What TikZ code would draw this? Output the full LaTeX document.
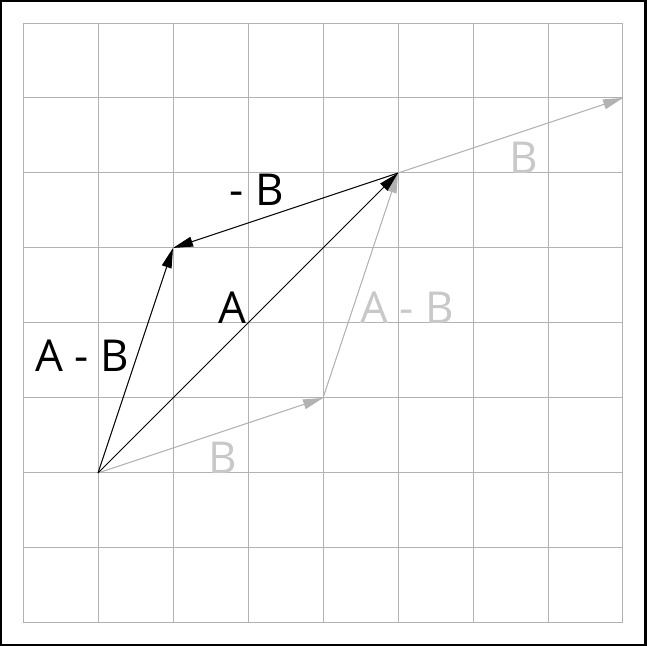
\documentclass[tikz,border=0pt]{standalone}
\usepackage{fontspec}
\setmainfont{Open Sans}
\usetikzlibrary{arrows.meta}
\definecolor{gridgray}{RGB}{178,178,178}
\definecolor{vecgray}{RGB}{178,178,178}
\definecolor{labgray}{RGB}{200,200,200}
\tikzset{
  vec/.style={line width=0.5pt, -{Triangle[length=10pt,width=5pt]}},
  ghost/.style={vec, draw=vecgray, fill=vecgray},
  lab/.style={font=\fontsize{22}{26}\selectfont, inner sep=0pt},
}
\begin{document}
\begin{tikzpicture}[x=37.5pt, y=37.5pt]
        \useasboundingbox (-0.306667,-0.306667) rectangle (8.306667,8.306667);
        % Frame
        \draw [line width=2pt] (-0.306667,-0.306667) rectangle (8.306667,8.306667);%

        % Drawing grid
        \draw [gridgray, line width=0.5pt, step=37.5pt] (0,0) grid (8,8);%

        % Points
        \coordinate (O) at (1.000000,2.000000);%
        \coordinate (B) at (4.000000,3.000000);%
        \coordinate (A) at (5.000000,6.000000);%
        \coordinate (AB) at (2.000000,5.000000);%
        \coordinate (E) at (8.000000,7.000000);%

        % Gray vectors B, A - B and B
        \draw [ghost] (O) -- (B);%
        \draw [ghost] (B) -- (A);%
        \draw [ghost] (A) -- (E);%

        % Black vectors A, A - B and - B
        \draw [vec] (O) -- (A);%
        \draw [vec] (O) -- (AB);%
        \draw [vec] (A) -- (AB);%

        % Labels
        \node [lab] (labA) at (2.790000,4.210000) {A};%
        \node [lab] (labNB) at (3.120000,5.770000) {- B};%
        \node [lab] (labAB) at (0.790000,3.570000) {A - B};%
        \node [lab, labgray] (labB) at (2.670000,2.200000) {B};%
        \node [lab, labgray] (labBt) at (6.670000,6.200000) {B};%
        \node [lab, labgray] (labABg) at (5.120000,4.210000) {A - B};%
    \end{tikzpicture}
\end{document}
